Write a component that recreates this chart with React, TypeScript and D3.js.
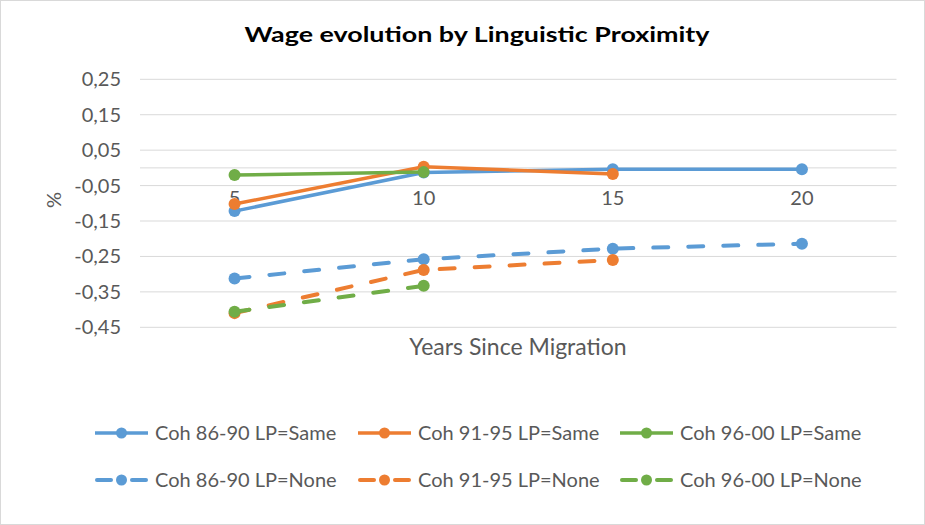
import { useEffect } from "react";
import * as d3 from "d3";

const width = 925;
const height = 525;
const plot = { left: 140, right: 896.5, top: 79.3, bottom: 327.3 };

const categories = ["5", "10", "15", "20"];
const yTicks = [0.25, 0.15, 0.05, -0.05, -0.15, -0.25, -0.35, -0.45];

// null = no observation for that cohort
const coh8690Same = [-0.122, -0.013, -0.004, -0.004];
const coh9195Same = [-0.102, 0.003, -0.017, null];
const coh9600Same = [-0.02, -0.012, null, null];
const coh8690None = [-0.312, -0.258, -0.228, -0.214];
const coh9195None = [-0.41, -0.288, -0.26, null];
const coh9600None = [-0.406, -0.333, null, null];

const blue = "#5B9BD5";
const orange = "#ED7D31";
const green = "#70AD47";

const series = [
  { label: "Coh 86-90 LP=Same", values: coh8690Same, color: blue, dashed: false },
  { label: "Coh 91-95 LP=Same", values: coh9195Same, color: orange, dashed: false },
  { label: "Coh 96-00 LP=Same", values: coh9600Same, color: green, dashed: false },
  { label: "Coh 86-90 LP=None", values: coh8690None, color: blue, dashed: true },
  { label: "Coh 91-95 LP=None", values: coh9195None, color: orange, dashed: true },
  { label: "Coh 96-00 LP=None", values: coh9600None, color: green, dashed: true },
];

const font = "Lato, 'Open Sans', sans-serif";
const textColor = "#595959";
const fmt = (v: number) => d3.format(".2f")(v).replace(".", ",").replace("−", "-");

const App = () => {
  useEffect(() => {
    document.body.style.margin = "0";
  }, []);

  const xBand = d3.scaleBand().domain(categories).range([plot.left, plot.right]);
  const x = (c: string) => (xBand(c) ?? 0) + xBand.bandwidth() / 2;
  const y = d3.scaleLinear().domain([-0.45, 0.25]).range([plot.bottom, plot.top]);

  const line = d3
    .line<number | null>()
    .defined((d) => d !== null)
    .x((_, i) => x(categories[i]))
    .y((d) => y(d as number));

  const legendCols = [95, 358, 620];
  const legendRows = [433, 480];

  return (
    <svg width={width} height={height} style={{ display: "block" }}>
      <rect x={0.5} y={0.5} width={width - 1} height={height - 1} fill="#fff" stroke="#D9D9D9" />
      <text
        x={477}
        y={42}
        textAnchor="middle"
        fontFamily={font}
        fontWeight="bold"
        fontSize={20}
        fill="#000"
        textLength={465}
        lengthAdjust="spacingAndGlyphs"
      >
        Wage evolution by Linguistic Proximity
      </text>

      {/* gridlines */}
      {yTicks.map((t) => (
        <g key={t}>
          <line x1={plot.left} x2={plot.right} y1={y(t)} y2={y(t)} stroke="#D9D9D9" strokeWidth={1} />
          <text x={121} y={y(t) + 7} textAnchor="end" fontFamily={font} fontSize={20} fill={textColor}>
            {fmt(t)}
          </text>
        </g>
      ))}
      {/* category axis at zero */}
      <line x1={plot.left} x2={plot.right} y1={y(0)} y2={y(0)} stroke="#D9D9D9" strokeWidth={1} />
      {categories.map((c) => (
        <text key={c} x={x(c)} y={205} textAnchor="middle" fontFamily={font} fontSize={20} fill={textColor}>
          {c}
        </text>
      ))}

      <text
        transform="translate(61,200) rotate(-90)"
        textAnchor="middle"
        fontFamily={font}
        fontSize={20}
        fill={textColor}
      >
        %
      </text>
      <text x={518} y={355} textAnchor="middle" fontFamily={font} fontSize={23} fill={textColor}>
        Years Since Migration
      </text>

      {/* series */}
      {series.map((s) => (
        <g key={s.label}>
          <path
            d={line(s.values) ?? ""}
            fill="none"
            stroke={s.color}
            strokeWidth={s.dashed ? 4 : 3.5}
            strokeDasharray={s.dashed ? "15,20" : undefined}
            strokeLinecap="round"
            strokeLinejoin="round"
          />
          {s.values.map((v, i) =>
            v === null ? null : <circle key={i} cx={x(categories[i])} cy={y(v)} r={6} fill={s.color} />
          )}
        </g>
      ))}

      {/* legend */}
      {series.map((s, i) => {
        const lx = legendCols[i % 3];
        const ly = legendRows[Math.floor(i / 3)];
        return (
          <g key={s.label}>
            {s.dashed ? (
              <>
                <line x1={lx + 2} x2={lx + 16} y1={ly} y2={ly} stroke={s.color} strokeWidth={4} strokeLinecap="round" />
                <line x1={lx + 37} x2={lx + 51} y1={ly} y2={ly} stroke={s.color} strokeWidth={4} strokeLinecap="round" />
              </>
            ) : (
              <line x1={lx} x2={lx + 53} y1={ly} y2={ly} stroke={s.color} strokeWidth={3.5} />
            )}
            <circle cx={lx + 26.5} cy={ly} r={5.5} fill={s.color} />
            <text x={lx + 60} y={ly + 7} fontFamily={font} fontSize={20} fill={textColor}>
              {s.label}
            </text>
          </g>
        );
      })}
    </svg>
  );
};

export default App;
